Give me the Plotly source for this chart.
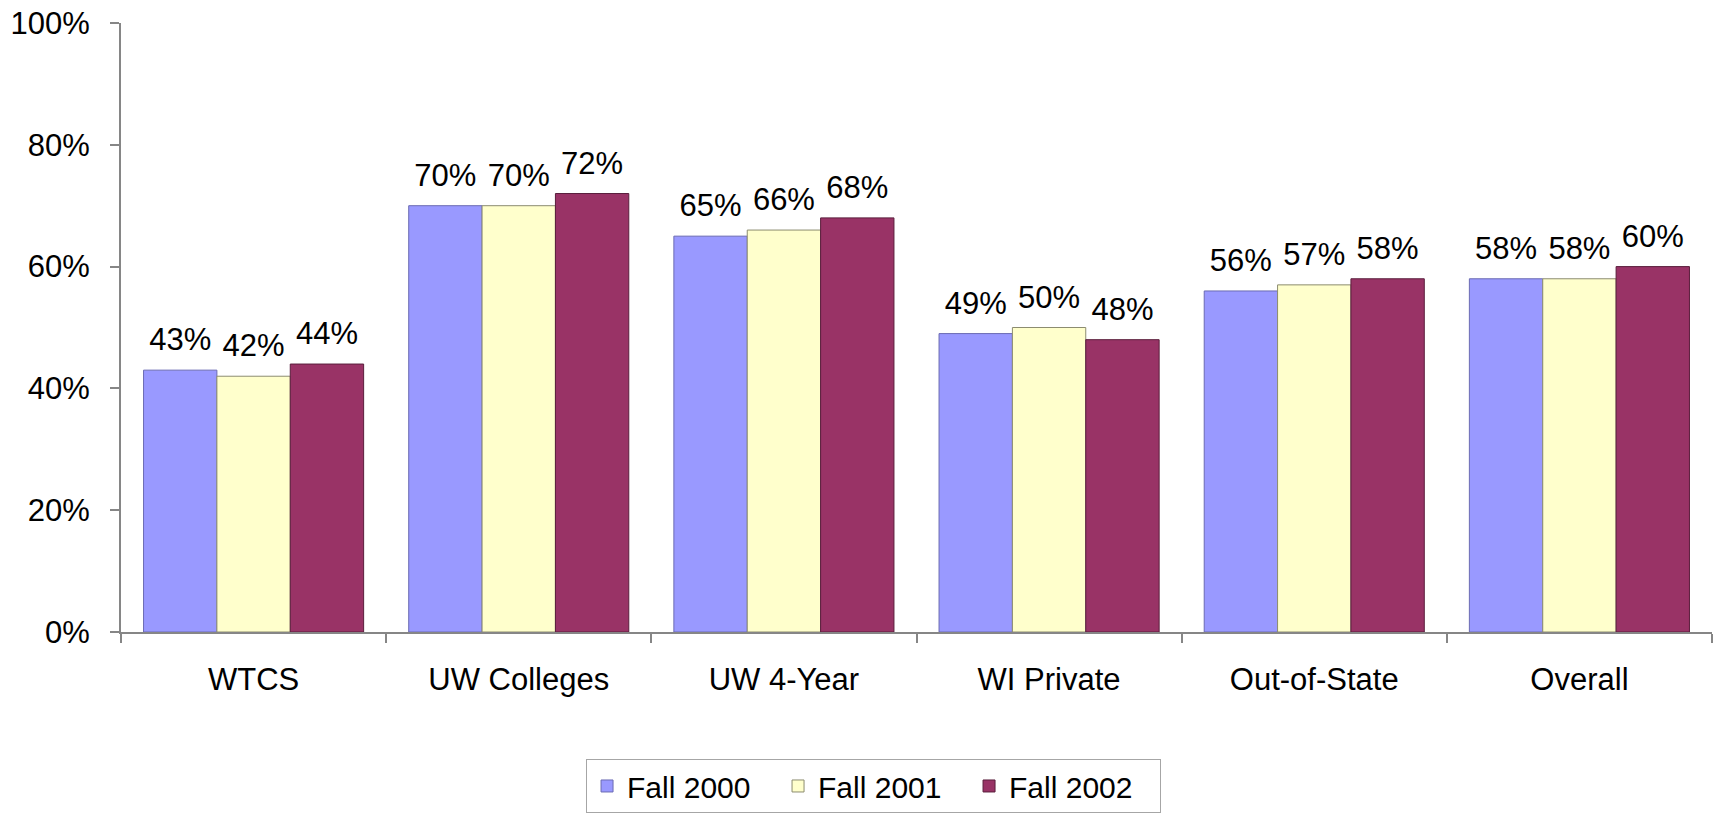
import plotly.graph_objects as go

categories = ["WTCS", "UW Colleges", "UW 4-Year", "WI Private", "Out-of-State", "Overall"]
fall_2000 = [0.43, 0.70, 0.65, 0.49, 0.56, 0.58]
fall_2001 = [0.42, 0.70, 0.66, 0.50, 0.57, 0.58]
fall_2002 = [0.44, 0.72, 0.68, 0.48, 0.58, 0.60]
y_ticks = [0, 0.2, 0.4, 0.6, 0.8, 1.0]

series = [
    ("Fall 2000", fall_2000, "#9999FF", "#6B6BB3"),
    ("Fall 2001", fall_2001, "#FFFFCC", "#8C8C70"),
    ("Fall 2002", fall_2002, "#993366", "#5A1E3C"),
]

FONT = "Arial, Liberation Sans, sans-serif"
AXIS = "#868686"

fig = go.Figure()
for i, (name, vals, color, edge) in enumerate(series):
    fig.add_trace(go.Bar(
        x=categories, y=vals, name=name, offsetgroup=str(i),
        marker=dict(color=color, line=dict(color=edge, width=1)),
        hoverinfo="skip",
    ))
for i, (name, vals, color, edge) in enumerate(series):
    # data labels, grouped the same way as the bars
    fig.add_trace(go.Scatter(
        x=categories, y=vals, offsetgroup=str(i), mode="markers+text",
        text=[f"{v:.0%}" for v in vals], textposition="top center",
        marker=dict(size=18, opacity=0), showlegend=False, hoverinfo="skip",
        textfont=dict(size=31, color="black", family=FONT),
    ))

fig.update_layout(
    width=1719, height=827,
    barmode="group", scattermode="group", bargap=0.17, bargroupgap=0, scattergap=0.17,
    plot_bgcolor="white", paper_bgcolor="white",
    font=dict(family=FONT, size=31, color="black"),
    margin=dict(l=121, r=7, t=23, b=195),
    legend=dict(orientation="h", x=0.473, xanchor="center", y=-0.2085, yanchor="top",
                bordercolor="#A6A6A6", borderwidth=1, entrywidth=146,
                font=dict(size=30), itemclick=False),
    showlegend=True,
)
fig.update_yaxes(range=[0, 1], tickvals=y_ticks, tickformat=".0%", showgrid=False,
                 showline=True, linecolor=AXIS, linewidth=2, ticks="outside",
                 ticklen=9, tickcolor=AXIS, tickwidth=2, ticklabelstandoff=14,
                 ticklabeloverflow="allow", zeroline=False, automargin=False)
fig.update_xaxes(showline=True, linecolor=AXIS, linewidth=2, ticks="outside",
                 tickson="boundaries", ticklen=9, tickcolor=AXIS, tickwidth=2,
                 ticklabelstandoff=19, showgrid=False, automargin=False)

# drop the browser's default body margin so the figure fills the window exactly
fig.write_html("out.html", config={"displayModeBar": False},
               post_script="document.body.style.margin='0';")
